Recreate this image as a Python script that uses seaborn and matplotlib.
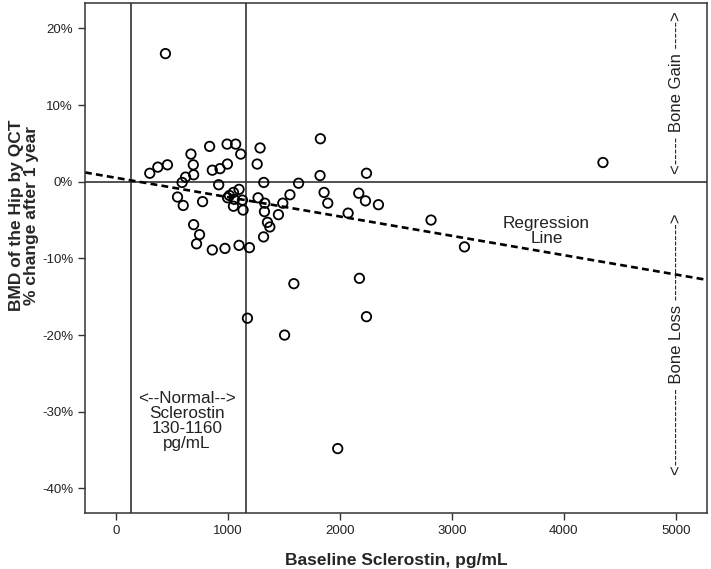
import matplotlib
matplotlib.use("Agg")
import matplotlib.pyplot as plt
import seaborn as sns
import pandas as pd

# Baseline sclerostin (pg/mL) and % change of hip BMD after 1 year
sclerostin = [299, 371, 457, 667, 688, 691, 619, 588, 547, 598,
              834, 858, 927, 993, 990, 1067, 1112, 915, 771, 1047,
              1011, 1047, 1097, 1127, 1133, 691, 744, 717, 858, 971,
              1097, 1190, 1172, 1259, 1285, 1318, 1267, 1327, 1324, 1351,
              1372, 1316, 1449, 1488, 1552, 1629, 1587, 1824, 1821, 1857,
              1890, 2072, 2167, 2227, 2236, 2173, 2236, 2343, 2813, 3112,
              4350, 1504, 1979, 439, 995, 1055]
bmd_change = [1.1, 1.9, 2.2, 3.6, 2.2, 0.9, 0.6, -0.1, -2.0, -3.1,
              4.6, 1.5, 1.7, 2.3, 4.9, 4.9, 3.6, -0.4, -2.6, -1.4,
              -1.8, -3.2, -1.0, -2.4, -3.7, -5.6, -6.9, -8.1, -8.9, -8.7,
              -8.3, -8.6, -17.8, 2.3, 4.4, -0.1, -2.1, -2.8, -3.9, -5.3,
              -5.9, -7.2, -4.3, -2.8, -1.7, -0.2, -13.3, 5.6, 0.8, -1.4,
              -2.8, -4.1, -1.5, -2.5, 1.1, -12.6, -17.6, -3.0, -5.0, -8.5,
              2.5, -20.0, -34.8, 16.7, -2.1, -2.3]

normal_range = [130, 1160]
reg_intercept = 0.5
reg_slope = -0.00252

xticks = [0, 1000, 2000, 3000, 4000, 5000]
yticks = [20, 10, 0, -10, -20, -30, -40]
ytick_labels = ["20%", "10%", "0%", "-10%", "-20%", "-30%", "-40%"]

df = pd.DataFrame({"sclerostin": sclerostin, "bmd": bmd_change})

sns.set_theme(style="ticks")
plt.rcParams["font.family"] = ["Liberation Sans", "DejaVu Sans"]

fig = plt.figure(figsize=(7.11, 5.69), dpi=100)
ax = fig.add_axes([85 / 711, 56 / 569, 622 / 711, 510 / 569])

# reference lines
for xv in normal_range:
    ax.axvline(xv, color="#333333", lw=1.2, zorder=1)
ax.axhline(0, color="#333333", lw=1.2, zorder=1)

# regression line
ax.axline((0, reg_intercept), slope=reg_slope, color="black", lw=1.9,
          dashes=(2.6, 1.6), zorder=2)

sns.scatterplot(data=df, x="sclerostin", y="bmd", ax=ax, marker="o", s=46,
                facecolor="none", edgecolor="black", linewidth=1.3, zorder=3)

ax.set_xlim(-280, 5280)
ax.set_ylim(-43.2, 23.3)
ax.set_xticks(xticks)
ax.set_yticks(yticks)
ax.set_yticklabels(ytick_labels)
ax.tick_params(axis="both", labelsize=9.5, length=5, width=1, color="#333333",
               labelcolor="#222222")
for sp in ax.spines.values():
    sp.set_color("#333333")
    sp.set_linewidth(1.1)

ax.set_xlabel("Baseline Sclerostin, pg/mL", fontsize=12.5, fontweight="bold",
              labelpad=12)
ax.set_ylabel("BMD of the Hip by QCT\n% change after 1 year", fontsize=12.5,
              fontweight="bold", linespacing=1.0)
ax.yaxis.set_label_coords(-0.074, 0.584)

# annotations
ax.text(630, -31.2, "<--Normal-->\nSclerostin\n130-1160\npg/mL", ha="center",
        va="center", fontsize=12.3, linespacing=1.0, color="#222222")
ax.text(3845, -6.4, "Regression\nLine", ha="center", va="center",
        fontsize=12.3, linespacing=1.0, color="#222222")
ax.text(5010, 11.6, "<----- Bone Gain ----->", rotation=90, ha="center",
        va="center", fontsize=12, color="#222222")
ax.text(5010, -21.25, "<-------------- Bone Loss -------------->", rotation=90,
        ha="center", va="center", fontsize=12, color="#222222")

fig.savefig("out.png", dpi=100)
